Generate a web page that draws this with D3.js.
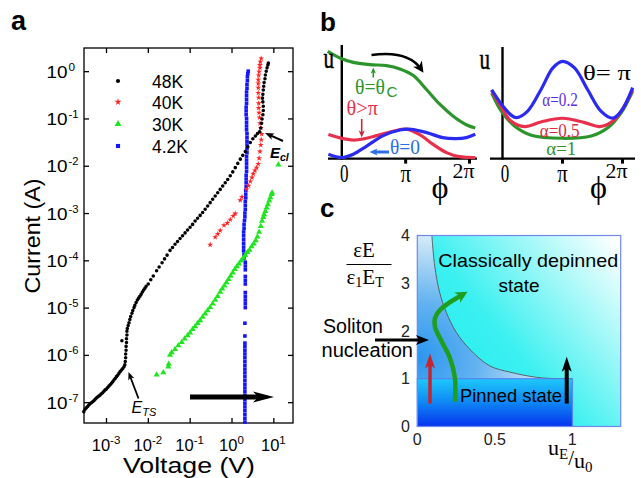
<!DOCTYPE html>
<html>
<head>
<meta charset="utf-8">
<script src="https://cdn.jsdelivr.net/npm/d3@7"></script>
<style>
  body { margin: 0; background: #fff; }
  svg { display: block; }
</style>
</head>
<body>
<svg id="fig" width="641" height="478"></svg>
<script>
// ---------- panel a : I-V data, pairs are [log10 V, log10 I] ----------
const iv48 = [
  [-3.53,-7.20],[-3.50,-7.15],[-3.47,-7.12],[-3.44,-7.09],[-3.41,-7.06],[-3.38,-7.03],[-3.35,-7.01],
  [-3.32,-6.99],[-3.29,-6.97],[-3.26,-6.94],[-3.23,-6.91],[-3.20,-6.89],[-3.17,-6.87],[-3.14,-6.85],
  [-3.11,-6.82],[-3.08,-6.80],[-3.05,-6.77],[-3.02,-6.74],[-2.99,-6.72],[-2.96,-6.69],[-2.93,-6.66],
  [-2.90,-6.63],[-2.87,-6.60],[-2.84,-6.57],[-2.81,-6.53],[-2.78,-6.50],[-2.75,-6.46],[-2.72,-6.43],
  [-2.69,-6.39],[-2.66,-6.35],[-2.63,-6.32],[-2.60,-6.29],[-2.57,-6.25],[-2.55,-6.21],
  [-2.54,-6.14],[-2.53,-6.06],[-2.53,-5.98],[-2.52,-5.90],[-2.52,-5.82],[-2.51,-5.74],[-2.51,-5.66],
  [-2.50,-5.58],[-2.50,-5.50],[-2.49,-5.44],[-2.47,-5.38],[-2.45,-5.32],[-2.43,-5.25],[-2.41,-5.19],
  [-2.38,-5.12],[-2.36,-5.06],[-2.33,-5.00],[-2.31,-4.95],[-2.28,-4.89],[-2.25,-4.84],[-2.22,-4.80],
  [-2.19,-4.76],[-2.16,-4.72],[-2.13,-4.67],[-2.10,-4.63],[-2.07,-4.59],[-2.04,-4.55],[-2.62,-5.70],
  [-1.99,-4.50],[-1.93,-4.41],[-1.87,-4.33],[-1.79,-4.22],[-1.73,-4.14],[-1.66,-4.05],[-1.60,-3.97],
  [-1.54,-3.89],[-1.47,-3.79],[-1.41,-3.73],[-1.35,-3.66],[-1.29,-3.60],[-1.23,-3.54],[-1.17,-3.48],
  [-1.11,-3.42],[-1.05,-3.36],[-0.99,-3.30],[-0.93,-3.24],[-0.87,-3.17],[-0.81,-3.11],[-0.75,-3.05],
  [-0.69,-2.99],[-0.63,-2.92],[-0.57,-2.85],[-0.51,-2.78],[-0.45,-2.71],[-0.39,-2.64],[-0.33,-2.57],
  [-0.27,-2.50],[-0.21,-2.43],[-0.15,-2.36],[-0.09,-2.29],[-0.03,-2.21],[0.03,-2.13],[0.09,-2.04],
  [0.15,-1.95],[0.21,-1.86],[0.27,-1.78],[0.33,-1.70],[0.39,-1.60],[0.45,-1.51],[0.51,-1.43],
  [0.57,-1.37],[0.62,-1.32],[0.67,-1.28],[0.70,-1.20],[0.72,-1.10],[0.73,-1.01],[0.75,-0.92],
  [0.76,-0.83],[0.76,-0.74],[0.75,-0.65],[0.74,-0.57],[0.75,-0.49],[0.76,-0.40],[0.77,-0.32],
  [0.78,-0.24],[0.80,-0.16],[0.81,-0.08],[0.83,0.00],[0.85,0.07],[0.87,0.13],[0.88,0.17]
];
const iv40 = [
  [-0.51,-3.67],[-0.39,-3.51],[-0.33,-3.44],[-0.27,-3.37],[-0.18,-3.26],[-0.10,-3.21],[-0.03,-3.14],
  [0.04,-3.06],[0.09,-3.01],[0.21,-2.73],[0.25,-2.66],[0.36,-2.50],[0.41,-2.42],[0.45,-2.33],
  [0.49,-2.25],[0.52,-2.17],[0.56,-2.10],[0.60,-2.04],[0.64,-1.96],[0.66,-1.84],[0.68,-1.70],
  [0.70,-1.56],[0.71,-1.45],[0.72,-1.33],[0.70,-1.20],[0.68,-1.10],[0.67,-0.98],[0.66,-0.88],
  [0.65,-0.78],[0.65,-0.68],[0.65,-0.56],[0.64,-0.46],[0.64,-0.35],[0.64,-0.26],[0.64,-0.18],
  [0.65,-0.09],[0.66,-0.01],[0.68,0.07],[0.68,0.13],[0.69,0.20],[0.71,0.27]
];
const iv30 = [
  [-1.79,-6.42],[-1.63,-6.37],[-1.51,-6.25],[-1.50,-6.19],[-1.47,-6.00],[-1.43,-5.95],[-1.35,-5.88],
  [-1.27,-5.80],[-1.19,-5.73],[-1.12,-5.66],[-1.05,-5.59],[-0.99,-5.53],[-0.93,-5.46],[-0.87,-5.40],
  [-0.81,-5.33],[-0.75,-5.27],[-0.69,-5.20],[-0.63,-5.13],[-0.57,-5.06],[-0.51,-4.99],[-0.45,-4.92],
  [-0.39,-4.84],[-0.33,-4.76],[-0.27,-4.67],[-0.22,-4.60],[-0.17,-4.54],[-0.12,-4.47],[-0.07,-4.40],
  [-0.02,-4.33],[0.03,-4.26],[0.08,-4.19],[0.13,-4.13],[0.18,-4.07],[0.23,-4.01],[0.28,-3.95],
  [0.33,-3.89],[0.38,-3.83],[0.43,-3.78],[0.48,-3.71],[0.53,-3.65],[0.58,-3.58],[0.62,-3.50],
  [0.66,-3.40],[0.70,-3.28],[0.73,-3.17],[0.76,-3.09],[0.78,-3.03],[0.81,-2.96],[0.84,-2.89],
  [0.87,-2.82],[0.90,-2.74],[0.93,-2.67],[0.96,-2.60],[0.97,-2.57],[1.12,-1.98]
];
const iv4 = [
  [0.32,-7.42],[0.32,-7.34],[0.32,-7.26],[0.32,-7.18],[0.32,-7.10],[0.32,-7.02],[0.32,-6.94],
  [0.32,-6.86],[0.32,-6.78],[0.32,-6.70],[0.32,-6.62],[0.32,-6.54],[0.32,-6.46],[0.32,-6.38],
  [0.32,-6.30],[0.32,-6.22],[0.32,-6.14],[0.32,-6.06],[0.32,-5.98],[0.32,-5.90],[0.32,-5.82],
  [0.32,-5.75],[0.32,-5.60],[0.32,-5.33],[0.33,-5.00],[0.33,-4.92],[0.33,-4.84],[0.33,-4.76],
  [0.33,-4.68],[0.33,-4.50],[0.33,-4.42],[0.33,-4.34],[0.33,-4.20],[0.33,-4.12],[0.33,-4.04],
  [0.30,-3.96],[0.30,-3.88],[0.29,-3.80],[0.29,-3.72],[0.29,-3.64],[0.29,-3.56],[0.29,-3.48],
  [0.29,-3.40],[0.30,-3.32],[0.30,-3.24],[0.31,-3.16],[0.32,-3.08],[0.32,-3.00],[0.33,-2.92],
  [0.33,-2.84],[0.33,-2.76],[0.34,-2.68],[0.34,-2.60],[0.34,-2.52],[0.35,-2.44],[0.35,-2.36],
  [0.35,-2.28],[0.35,-2.20],[0.36,-2.12],[0.36,-2.04],[0.36,-1.96],[0.36,-1.88],[0.36,-1.80],
  [0.37,-1.72],[0.37,-1.64],[0.37,-1.56],[0.37,-1.48],[0.37,-1.40],[0.37,-1.32],[0.36,-1.24],
  [0.36,-1.16],[0.36,-1.08],[0.36,-1.00],[0.35,-0.92],[0.35,-0.84],[0.35,-0.76],[0.36,-0.68],
  [0.36,-0.60],[0.36,-0.52],[0.36,-0.44],[0.37,-0.36],[0.37,-0.28],[0.38,-0.20],[0.38,-0.12],
  [0.39,-0.05],[0.40,0.00]
];
const seriesNames = ["48K", "40K", "30K", "4.2K"];
const xDecades = [-3, -2, -1, 0, 1];
const yDecades = [0, -1, -2, -3, -4, -5, -6, -7];

// ---------- panel b : potential u(phi), [phi / pi, u] ----------
const uThetaC = [[-0.22,0.98],[-0.03,0.92],[0.18,0.88],[0.44,0.86],[0.70,0.85],[0.91,0.82],[1.12,0.76],
  [1.33,0.63],[1.53,0.50],[1.74,0.39],[1.95,0.31],[2.09,0.28]];
const uThetaGtPi = [[-0.21,0.22],[-0.03,0.19],[0.18,0.17],[0.34,0.18],[0.55,0.21],[0.80,0.25],[1.01,0.27],
  [1.22,0.22],[1.43,0.13],[1.64,0.055],[1.84,0.018],[2.09,0.01]];
const uTheta0 = [[-0.21,0.04],[0.0,0.01],[0.18,0.04],[0.39,0.115],[0.65,0.21],[0.91,0.262],[1.09,0.268],
  [1.33,0.238],[1.58,0.192],[1.79,0.183],[1.95,0.192],[2.09,0.222]];
const uAlpha02 = [[-0.18,0.63],[-0.02,0.50],[0.14,0.40],[0.23,0.375],[0.42,0.435],[0.64,0.63],[0.84,0.83],
  [1.0,0.89],[1.2,0.83],[1.42,0.63],[1.64,0.435],[1.84,0.37],[1.98,0.435],[2.17,0.65]];
const uAlpha05 = [[-0.18,0.62],[-0.02,0.47],[0.14,0.344],[0.37,0.293],[0.64,0.335],[1.0,0.369],[1.37,0.329],
  [1.62,0.293],[1.84,0.344],[2.03,0.48],[2.17,0.634]];
const uAlpha1 = [[-0.18,0.60],[-0.02,0.435],[0.2,0.298],[0.48,0.213],[1.0,0.186],[1.48,0.207],[1.76,0.284],
  [1.98,0.421],[2.17,0.618]];
const phiTicks = [0, 1, 2];
const phiLabels = ["0", "π", "2π"];

// ---------- panel c : phase diagram, [uE/u0, eps E / eps1 ET] ----------
const boundary = [[0.094,4.0],[0.112,3.37],[0.144,2.81],[0.187,2.39],[0.252,1.97],[0.338,1.62],
  [0.467,1.27],[0.597,1.14],[0.77,1.03],[0.92,1.0],[1.0,1.0]];
const greenPath = [[0.243,0.52],[0.243,1.01],[0.211,1.43],[0.157,1.78],[0.114,2.09],[0.114,2.27],
  [0.146,2.44],[0.2,2.58],[0.297,2.77]];
const cXTicks = [0, 0.5, 1];
const cYTicks = [0, 1, 2, 3, 4];

const SANS = "'Liberation Sans', Arial, sans-serif";
const SERIF = "'Liberation Serif', 'DejaVu Serif', serif";

const svg = d3.select("#fig");
const defs = svg.append("defs");

function txt(g, x, y, s, o) {
  o = o || {};
  const t = g.append("text").attr("x", x).attr("y", y)
    .attr("font-size", o.size || 16).attr("font-family", o.family || SANS)
    .attr("fill", o.fill || "#000").attr("text-anchor", o.anchor || "start").text(s);
  if (o.weight) t.attr("font-weight", o.weight);
  if (o.style) t.attr("font-style", o.style);
  if (o.len) t.attr("textLength", o.len).attr("lengthAdjust", "spacingAndGlyphs");
  return t;
}

// straight arrow with a filled head
function arrow(g, x1, y1, x2, y2, color, sw, hl, hw) {
  const a = Math.atan2(y2 - y1, x2 - x1), c = Math.cos(a), s = Math.sin(a);
  g.append("line").attr("x1", x1).attr("y1", y1)
    .attr("x2", x2 - c * hl * 0.6).attr("y2", y2 - s * hl * 0.6)
    .attr("stroke", color).attr("stroke-width", sw);
  const bx = x2 - c * hl, by = y2 - s * hl;
  const nx = x2 - c * hl * 0.75, ny = y2 - s * hl * 0.75;
  g.append("path")
    .attr("d", `M${x2},${y2}L${bx - s * hw},${by + c * hw}L${nx},${ny}L${bx + s * hw},${by - c * hw}Z`)
    .attr("fill", color);
}

function headMarker(id, color, w, h) {
  defs.append("marker").attr("id", id).attr("viewBox", "0 0 10 10")
    .attr("refX", 6).attr("refY", 5).attr("markerUnits", "userSpaceOnUse")
    .attr("markerWidth", w).attr("markerHeight", h).attr("orient", "auto")
    .append("path").attr("d", "M0,0L10,5L0,10L3,5Z").attr("fill", color);
}
headMarker("headBlack", "#000", 13, 11);
headMarker("headGreen", "#1e9e1e", 14, 12);

// ====================== panel a ======================
const pa = svg.append("g");
const xA = d3.scaleLog().domain([10 ** -3.526, 10 ** 1.47]).range([84, 293]);
const yA = d3.scaleLog().domain([10 ** -7.44, 10 ** 0.49]).range([423, 48]);
const xt = xDecades.map(e => 10 ** e), yt = yDecades.map(e => 10 ** e);

[[d3.axisBottom(xA).tickValues(xt), 0, 423], [d3.axisTop(xA).tickValues(xt), 0, 48],
 [d3.axisLeft(yA).tickValues(yt), 84, 0], [d3.axisRight(yA).tickValues(yt), 293, 0]]
  .forEach(([ax, tx, ty]) => {
    const g = pa.append("g").attr("transform", `translate(${tx},${ty})`)
      .call(ax.tickSize(-5).tickFormat(""));
    g.select(".domain").remove();
    g.selectAll(".tick line").attr("stroke-width", 1.3);
  });
pa.append("rect").attr("x", 84).attr("y", 48).attr("width", 209).attr("height", 375)
  .attr("fill", "none").attr("stroke", "#000").attr("stroke-width", 1.3);

xDecades.forEach(e => {
  const t = txt(pa, xA(10 ** e), 451, "10", { size: 16.5, anchor: "middle" });
  t.append("tspan").attr("dy", -7).attr("font-size", 11.5).text(e);
});
yDecades.forEach(e => {
  const y = yA(10 ** e) + 6.5;
  txt(pa, 46.5, y, "10", { size: 16.5, len: 21 });
  txt(pa, 68.5, y - 7, e, { size: 11.5, len: e < 0 ? 10 : 6.5 });
});
txt(pa, 0, 0, "Current (A)", { size: 22, anchor: "middle", len: 115 })
  .attr("transform", "translate(40,236) rotate(-90)");
txt(pa, 189, 473, "Voltage (V)", { size: 22, anchor: "middle", len: 132 });

const series = [
  { name: "4.2K", data: iv4, color: "#1414ff", type: d3.symbolSquare, size: 13 },
  { name: "30K", data: iv30, color: "#1ee61e", type: d3.symbolTriangle, size: 16 },
  { name: "40K", data: iv40, color: "#ff2424", type: d3.symbolStar, size: 11 },
  { name: "48K", data: iv48, color: "#000000", type: d3.symbolCircle, size: 10 }
];
series.forEach(s => {
  pa.append("g").selectAll("path").data(s.data).join("path")
    .attr("transform", d => `translate(${xA(10 ** d[0])},${yA(10 ** d[1])})`)
    .attr("d", d3.symbol().type(s.type).size(s.size)).attr("fill", s.color);
});
const legY = [81, 102, 124, 146];
seriesNames.forEach((n, i) => {
  const s = series.find(d => d.name === n);
  pa.append("path").attr("transform", `translate(118,${legY[i]})`)
    .attr("d", d3.symbol().type(s.type).size(s.size + 4)).attr("fill", s.color);
  txt(pa, 152, legY[i] + 6.5, n, { size: 17.5 });
});

// annotations in a
arrow(pa, 283, 141, 265, 133, "#000", 2, 9, 3.5);
const ecl = txt(pa, 270, 158, "E", { size: 15, weight: "bold", style: "italic" });
ecl.append("tspan").attr("dy", 3).attr("font-size", 10.5).text("cl");
arrow(pa, 138.5, 398.5, 128.5, 372, "#000", 1.8, 8, 3.2);
const ets = txt(pa, 131.5, 413, "E", { size: 16, style: "italic" });
ets.append("tspan").attr("dy", 3).attr("font-size", 11).text("TS");
arrow(pa, 190, 397, 274, 397, "#000", 5, 21, 5.5);
txt(svg, 11, 30, "a", { size: 27, weight: "bold" });

// ====================== panel b ======================
const pb = svg.append("g");
const yB = d3.scaleLinear().domain([0, 1]).range([158.6, 49.3]);
const xB1 = d3.scaleLinear().domain([0, 2]).range([341.8, 469.5]);
const xB2 = d3.scaleLinear().domain([0, 2]).range([502.5, 622.5]);

function potPanel(xs, xl, xr, top, curves) {
  pb.append("line").attr("x1", xs(0)).attr("x2", xs(0)).attr("y1", top).attr("y2", yB(0) + 1)
    .attr("stroke", "#000").attr("stroke-width", 2.4);
  pb.append("line").attr("x1", xl).attr("x2", xr).attr("y1", yB(0)).attr("y2", yB(0))
    .attr("stroke", "#000").attr("stroke-width", 2.4);
  phiTicks.slice(1).forEach(p => {
    pb.append("line").attr("x1", xs(p)).attr("x2", xs(p)).attr("y1", yB(0)).attr("y2", yB(0) + 5)
      .attr("stroke", "#000").attr("stroke-width", 3);
  });
  const line = d3.line().x(d => xs(d[0])).y(d => yB(d[1])).curve(d3.curveCatmullRom.alpha(0.5));
  curves.forEach(c => {
    pb.append("path").datum(c.data).attr("d", line).attr("fill", "none")
      .attr("stroke", c.color).attr("stroke-width", 3.2);
  });
  // tick labels
  const dx = [2.5, 0, -6], dy = [23, 23, 19];
  phiTicks.forEach((p, i) => {
    txt(pb, xs(p) + dx[i], yB(0) + dy[i], phiLabels[i],
      { size: i === 2 ? 20 : 25, family: SERIF, anchor: "middle", len: i === 2 ? 22 : (i === 0 ? 8.5 : 10.5) });
  });
}
potPanel(xB1, 328, 477, 45, [
  { data: uThetaC, color: "#2b952b" },
  { data: uThetaGtPi, color: "#e8304c" },
  { data: uTheta0, color: "#2a2af0" }
]);
potPanel(xB2, 490, 635, 47, [
  { data: uAlpha1, color: "#2b952b" },
  { data: uAlpha05, color: "#e8304c" },
  { data: uAlpha02, color: "#2a2af0" }
]);
// axis symbols
txt(pb, 323.5, 68, "u", { size: 30, family: SERIF, len: 10.5 }).attr("stroke", "#000").attr("stroke-width", 0.5);
txt(pb, 479.5, 69, "u", { size: 30, family: SERIF, len: 10.5 }).attr("stroke", "#000").attr("stroke-width", 0.5);
txt(pb, 440, 198, "ϕ", { size: 32, family: SERIF, anchor: "middle", len: 17 });
txt(pb, 598.5, 198, "ϕ", { size: 32, family: SERIF, anchor: "middle", len: 17 });
// curve labels, left
txt(pb, 355, 93.5, "θ=θ", { size: 20, family: SERIF, fill: "#2b952b", len: 30 });
txt(pb, 386.5, 97, "C", { size: 15, fill: "#2b952b", len: 11 });
arrow(pb, 373.3, 77.5, 373.3, 67.5, "#2b952b", 1.6, 6, 2.6);
txt(pb, 346.5, 115, "θ>π", { size: 20, family: SERIF, fill: "#e8304c", len: 31.5 });
arrow(pb, 361.7, 119, 361.7, 137.5, "#c8283a", 1.6, 7, 3);
txt(pb, 390, 154, "θ=0", { size: 20, family: SERIF, fill: "#2a6ee8", len: 30 });
arrow(pb, 389, 152, 369.5, 152, "#2a6ee8", 3, 8, 3.5);
pb.append("path").attr("d", "M371.5,55 Q408,50 421,69").attr("fill", "none")
  .attr("stroke", "#000").attr("stroke-width", 2.4).attr("marker-end", "url(#headBlack)");
// curve labels, right
txt(pb, 583, 80, "θ= π", { size: 21, family: SERIF, len: 48 });
txt(pb, 542.3, 106, "α=0.2", { size: 18, family: SERIF, fill: "#5a2ee8", len: 35.5 });
txt(pb, 539.7, 136.7, "α=0.5", { size: 18, family: SERIF, fill: "#e02a44", len: 40 });
txt(pb, 546.3, 155, "α=1", { size: 18, family: SERIF, fill: "#2b952b", len: 30 });
txt(svg, 320, 31, "b", { size: 26, weight: "bold" });

// ====================== panel c ======================
const pc = svg.append("g");
const xC = d3.scaleLinear().domain([0, 1]).range([417.3, 572.3]);
const yC = d3.scaleLinear().domain([0, 4]).range([426.5, 235.5]);
const xMax = xC.invert(620.7);

const gBg = defs.append("linearGradient").attr("id", "cBg")
  .attr("x1", 0.15).attr("y1", 0.7).attr("x2", 1).attr("y2", 0.05);
[[0, "#28eef0"], [0.3, "#3cf0f0"], [1, "#ffffff"]].forEach(([o, c]) =>
  gBg.append("stop").attr("offset", o).attr("stop-color", c));
const gLeft = defs.append("radialGradient").attr("id", "cLeft")
  .attr("cx", 0).attr("cy", 0.85).attr("r", 0.85).attr("fx", 0).attr("fy", 0.85);
[[0, "#2a96ee"], [0.45, "#62b2f0"], [1, "#d4ebf8"]].forEach(([o, c]) =>
  gLeft.append("stop").attr("offset", o).attr("stop-color", c));
const gPin = defs.append("linearGradient").attr("id", "cPin")
  .attr("x1", 0).attr("y1", 0).attr("x2", 0).attr("y2", 1);
[[0, "#1ec8fb"], [0.5, "#0e86f4"], [1, "#0634f0"]].forEach(([o, c]) =>
  gPin.append("stop").attr("offset", o).attr("stop-color", c));

pc.append("rect").attr("x", xC(0)).attr("y", yC(4)).attr("width", xC(xMax) - xC(0))
  .attr("height", yC(0) - yC(4)).attr("fill", "url(#cBg)");
const boundaryLine = d3.line().x(d => xC(d[0])).y(d => yC(d[1])).curve(d3.curveCatmullRom.alpha(0.5));
pc.append("path")
  .attr("d", `M${xC(0)},${yC(1)}L${xC(0)},${yC(4)}` + boundaryLine(boundary).replace(/^M/, "L") + "Z")
  .attr("fill", "url(#cLeft)");
pc.append("path").datum(boundary).attr("d", boundaryLine)
  .attr("fill", "none").attr("stroke", "#555").attr("stroke-width", 0.9);
pc.append("rect").attr("x", xC(0)).attr("y", yC(1)).attr("width", xC(1) - xC(0))
  .attr("height", yC(0) - yC(1)).attr("fill", "url(#cPin)")
  .attr("stroke", "#5b74f0").attr("stroke-width", 1);
pc.append("rect").attr("x", xC(0)).attr("y", yC(4)).attr("width", xC(xMax) - xC(0))
  .attr("height", yC(0) - yC(4)).attr("fill", "none").attr("stroke", "#7088f0").attr("stroke-width", 1.2);

cYTicks.forEach(v => txt(pc, 410, yC(v) + 5.5, v, { size: 16, anchor: "end", fill: "#222" }));
cXTicks.forEach(v => txt(pc, xC(v), 445, v, { size: 16, anchor: "middle", fill: "#222" }));

txt(pc, 528.3, 266.5, "Classically depinned", { size: 19, anchor: "middle", len: 180 });
txt(pc, 519, 291.5, "state", { size: 19, anchor: "middle" });
txt(pc, 460, 401.5, "Pinned state", { size: 19, len: 102 });
txt(pc, 323, 333, "Soliton", { size: 19.5, len: 60 });
txt(pc, 321.5, 357, "nucleation", { size: 19.5, len: 91.5 });

arrow(pc, 375, 340, 429, 340, "#000", 3, 13, 5);
arrow(pc, xC(0.082), yC(0.48), xC(0.082), yC(1.53), "#c8242c", 3.5, 15, 5);
arrow(pc, xC(0.964), yC(0.48), xC(0.964), yC(1.46), "#000", 4, 15, 5);
pc.append("path").datum(greenPath)
  .attr("d", d3.line().x(d => xC(d[0])).y(d => yC(d[1])).curve(d3.curveCatmullRom.alpha(0.5)))
  .attr("fill", "none").attr("stroke", "#1e9e1e").attr("stroke-width", 4.5)
  .attr("marker-end", "url(#headGreen)");

// axis titles (fractions)
txt(pc, 364, 256.5, "εE", { size: 21, family: SERIF, anchor: "middle" });
pc.append("line").attr("x1", 346.5).attr("x2", 391.5).attr("y1", 264.5).attr("y2", 264.5)
  .attr("stroke", "#000").attr("stroke-width", 1);
const den = txt(pc, 346.5, 284, "ε", { size: 21, family: SERIF });
den.append("tspan").attr("dy", 3).attr("font-size", 14).text("1");
den.append("tspan").attr("dy", -3).attr("font-size", 21).text("E");
den.append("tspan").attr("dy", 3).attr("font-size", 14).text("T");
const xl = txt(pc, 548, 455, "u", { size: 22, family: SERIF });
xl.append("tspan").attr("dy", 4).attr("font-size", 15).text("E");
xl.append("tspan").attr("dy", 6).attr("font-size", 21).text("/");
xl.append("tspan").attr("dy", 3).attr("font-size", 22).text("u");
xl.append("tspan").attr("dy", 4).attr("font-size", 15).text("0");
txt(svg, 320, 217, "c", { size: 26, weight: "bold" });
</script>
</body>
</html>
